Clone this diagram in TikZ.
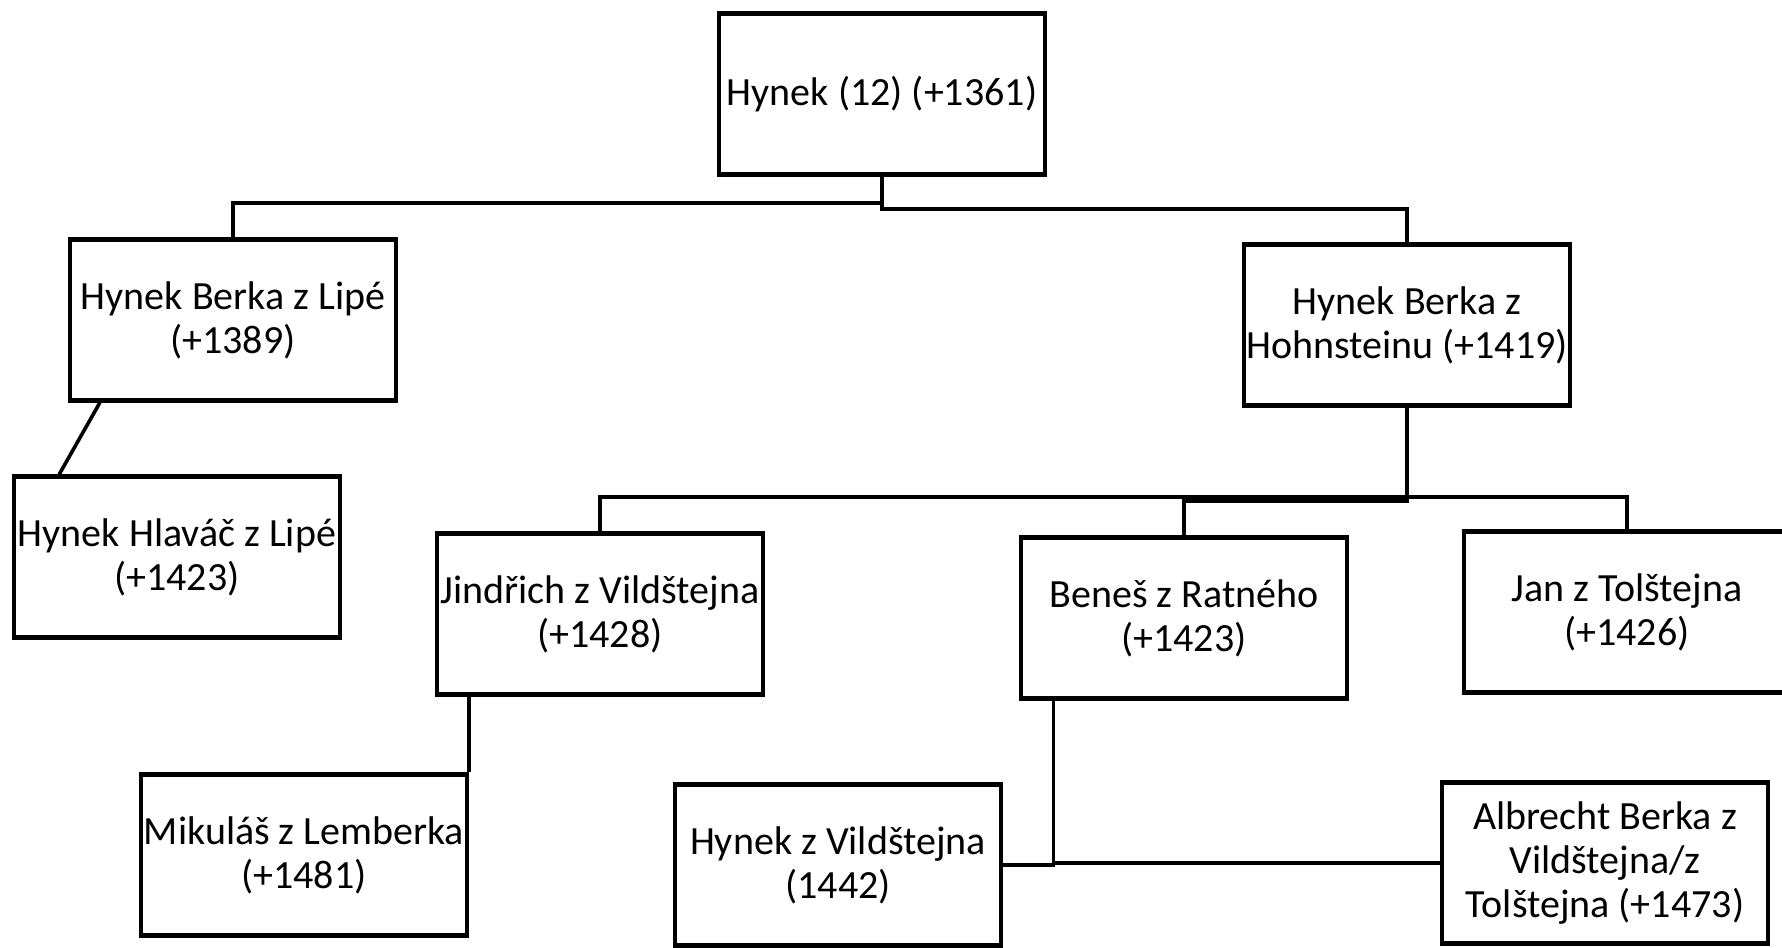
\documentclass[tikz,border=0pt]{standalone}
\usepackage{fontspec}
\setmainfont{Carlito}
\begin{document}
\begin{tikzpicture}[x=0.75pt,y=-0.75pt,
  person/.style={draw=black, line width=3.2pt, minimum width=244.5pt, minimum height=120.75pt,
    inner sep=0pt, align=center, font=\fontsize{30}{33}\selectfont, fill=white},
  link/.style={line width=2.7pt}]
\useasboundingbox (0,0) rectangle (1782,947);
\clip (0,0) rectangle (1782,947);
\fill[white] (0,0) rectangle (1782,947);

\node[person] (top)    at (882,94)   {Hynek (12) (+1361)};
\node[person] (lipe)   at (233,320)  {Hynek Berka z Lipé\\(+1389)};
\node[person] (hohn)   at (1407,325) {Hynek Berka z\\Hohnsteinu (+1419)};
\node[person] (hlavac) at (177,557)  {Hynek Hlaváč z Lipé\\(+1423)};
\node[person] (jind)   at (600,614)  {Jindřich z Vildštejna\\(+1428)};
\node[person] (benes)  at (1184,618) {Beneš z Ratného\\(+1423)};
\node[person] (jan)    at (1627,612) {Jan z Tolštejna\\(+1426)};
\node[person] (mik)    at (304,855)  {Mikuláš z Lemberka\\(+1481)};
\node[person] (hynekv) at (838,865)  {Hynek z Vildštejna\\(1442)};
\node[person] (albr)   at (1605,863) {Albrecht Berka z\\Vildštejna/z\\Tolštejna (+1473)};

\coordinate (t1) at (882,203);
\coordinate (t2) at (882,209);
\coordinate (h1) at (1407,497);
\coordinate (h2) at (1407,501);
\coordinate (b1) at ([xshift=26pt]benes.south west);

\draw[link] (top.south) -- (t1) -| (lipe.north);
\draw[link] (top.south) -- (t2) -| (hohn.north);
\draw[link] ([xshift=24pt]lipe.south west) -- ([xshift=35.5pt]hlavac.north west);
\draw[link] (hohn.south) -- (h1) -| (jind.north);
\draw[link] (hohn.south) -- (h2) -| (benes.north);
\draw[link] (hohn.south) -- (h1) -| (jan.north);
\draw[link] (mik.north east |- jind.south) -- (mik.north east);
\draw[link] (b1) |- (hynekv.east);
\draw[link] (b1) |- (albr.west);
\end{tikzpicture}
\end{document}
